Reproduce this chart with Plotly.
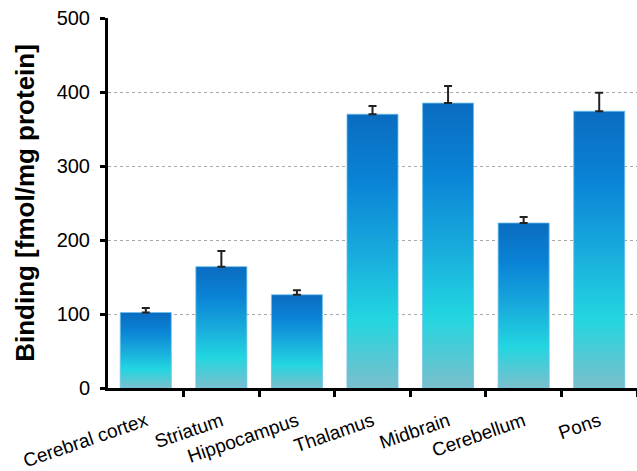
import plotly.graph_objects as go

regions = ["Cerebral cortex", "Striatum", "Hippocampus", "Thalamus", "Midbrain", "Cerebellum", "Pons"]
binding = [102, 164, 126, 370, 385, 223, 374]
sem = [6, 21, 6, 11, 23, 8, 25]
y_ticks = [0, 100, 200, 300, 400, 500]

bar_w = 0.675
grad = [[0.0, "#7bbfcc"], [0.25, "#22d6e0"], [0.5, "#18aadc"], [0.75, "#0a84d6"], [1.0, "#0a6cc0"]]

fig = go.Figure()
for i, (name, v) in enumerate(zip(regions, binding)):
    x0, x1 = i - bar_w / 2, i + bar_w / 2
    fig.add_trace(go.Scatter(
        x=[x0, x0, x1, x1, x0], y=[0, v, v, 0, 0],
        mode="lines", fill="toself",
        fillgradient=dict(type="vertical", colorscale=grad),
        line=dict(color="#6cc0ea", width=0.8),
        name=name, showlegend=False, hoverinfo="skip",
    ))

fig.add_trace(go.Scatter(
    x=list(range(len(regions))), y=binding, mode="markers",
    marker=dict(size=1, opacity=0),
    error_y=dict(type="data", symmetric=False, array=sem, arrayminus=[0] * len(sem),
                 color="#222222", thickness=2, width=4),
    showlegend=False,
))

font = "Liberation Sans, Arial, sans-serif"
fig.update_layout(
    width=637, height=471,
    margin=dict(l=108, r=0, t=18, b=83),
    plot_bgcolor="white", paper_bgcolor="white",
    font=dict(family=font, color="black", size=20),
)
fig.update_xaxes(
    range=[-0.5, 6.5], tickmode="array", tickvals=list(range(len(regions))), ticktext=regions,
    tickangle=-19, ticks="", showgrid=False, zeroline=False, automargin=False,
    showline=True, linecolor="black", linewidth=3,
    tickfont=dict(size=19), ticklabelstandoff=12,
    minor=dict(tickmode="array", tickvals=[i + 0.5 for i in range(len(regions))],
               ticks="outside", ticklen=6, tickwidth=3, tickcolor="black", showgrid=False),
)
fig.update_yaxes(
    range=[0, 500], tickmode="array", tickvals=y_ticks, automargin=False,
    ticks="outside", ticklen=5, tickwidth=3, tickcolor="black",
    showline=True, linecolor="black", linewidth=3, zeroline=False,
    showgrid=True, gridcolor="#a8a8a8", griddash="dot", gridwidth=1,
    tickfont=dict(size=20), ticklabelstandoff=6,
    title=dict(text="<b>Binding [fmol/mg protein]</b>", font=dict(size=26), standoff=15),
)

fig.write_html("out.html", config={"displayModeBar": False},
               post_script="document.body.style.margin='0';document.body.style.overflow='hidden';")
